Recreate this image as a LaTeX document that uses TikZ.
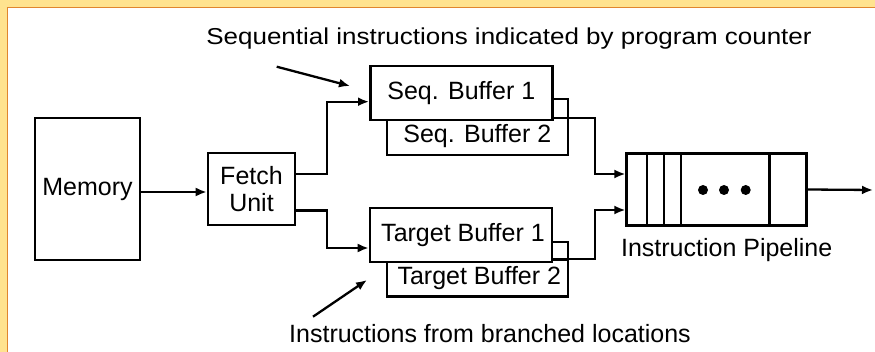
\documentclass[tikz,border=0pt]{standalone}
\usepackage{fontspec}
\setmainfont{Liberation Sans}
\usetikzlibrary{arrows.meta}
\definecolor{bandyellow}{HTML}{FFE38F}
\definecolor{bandorange}{HTML}{E0862E}
\tikzset{
  box/.style={draw=black, line width=2.6pt, fill=white, inner sep=0pt,
    font=\fontsize{25}{28}\selectfont, align=center},
  conn/.style={line width=2.3pt, -{Latex[length=11pt,width=9pt]}},
  plain/.style={line width=2.3pt},
  lbl/.style={inner sep=0pt, font=\fontsize{25}{28}\selectfont},
}
\begin{document}
\begin{tikzpicture}[x=1pt,y=-1pt]
\useasboundingbox (0,0) rectangle (875,352);
\fill[white] (0,0) rectangle (875,352);
\fill[bandyellow] (0,0) rectangle (875,7.5);
\fill[bandyellow] (0,0) rectangle (7.5,352);
\draw[bandorange, line width=1.2pt] (7.5,352) -- (7.5,7.5) -- (875,7.5);

% boxes
\node[box, minimum width=105pt, minimum height=142pt] (mem) at (87.5,189) {Memory};
\node[box, minimum width=87pt, minimum height=72pt, font=\fontsize{25}{27}\selectfont] (fetch) at (251.5,189) {Fetch\\Unit};

\node[box, minimum width=181pt, minimum height=37pt] (sb2) at (477.3,136.5) {Seq. Buffer 2};
\node[box, minimum width=182pt, minimum height=54pt] (sb1) at (461.3,93) {Seq. Buffer 1};

\node[box, minimum width=181pt, minimum height=37pt] (tb2) at (477.3,278.3) {\hspace*{4pt}Target Buffer 2};
\node[box, minimum width=182pt, minimum height=54pt] (tb1) at (461,235) {\hspace*{4pt}Target Buffer 1};

% pipeline
\node[box, minimum width=180pt, minimum height=72pt] (pipe) at (716.7,189.5) {};
\foreach \xx in {646.7,664,680.7,769.3}
  \draw[line width=2.4pt] (\xx,0 |- pipe.north) -- (\xx,0 |- pipe.south);
\foreach \xx [count=\i] in {703,724,745.7}
  \fill (\xx,190) circle (5pt) coordinate (dot\i);
\node[lbl] (plabel) at (726.7,250) {Instruction Pipeline};

% labels
\node[lbl] (toplabel) at (509,38.5) {\scalebox{1.13}[1]{\fontsize{23}{26}\selectfont Sequential instructions indicated by program counter}};
\node[lbl] (botlabel) at (490,334) {Instructions from branched locations};

% connectors
\draw[conn] (mem.east |- 0,192) -- (fetch.west |- 0,192);
\draw[conn] (fetch.east |- 0,174) -| (326.7,101.7) -- (sb1.west |- 0,101.7);
\draw[conn] (fetch.east |- 0,210.5) -| (326.7,248) -- (tb1.west |- 0,248);

\coordinate (s1) at (568,118);
\draw[plain] (sb1.east |- 0,99) -| (s1);
\draw[conn] (s1) -- (595,118) -- (595,174) -- (pipe.west |- 0,174);

\coordinate (t1) at (568,259);
\draw[plain] (tb1.east |- 0,241.7) -| (t1);
\draw[conn] (t1) -- (595,259) -- (595,210) -- (pipe.west |- 0,210);

\coordinate (out) at (873,190);
\draw[conn] (pipe.east) -- (out);

\coordinate (a1) at (276.7,66.7);
\coordinate (a2) at (350,86);
\draw[conn] (a1) -- (a2);
\coordinate (b1) at (313,316.7);
\coordinate (b2) at (367,280);
\draw[conn] (b1) -- (b2);
\end{tikzpicture}
\end{document}
